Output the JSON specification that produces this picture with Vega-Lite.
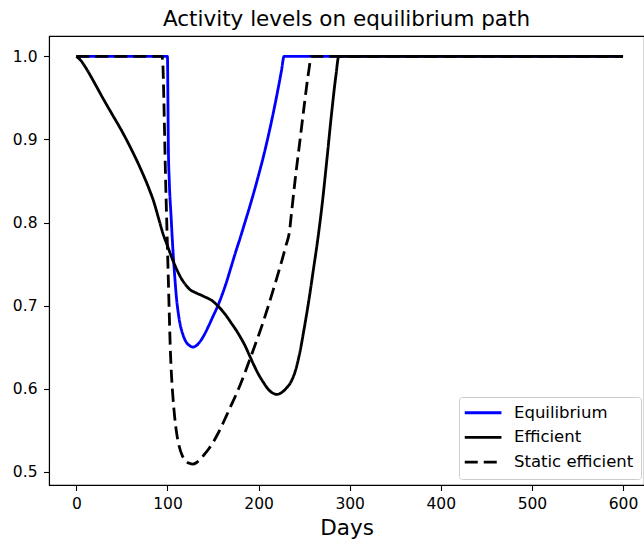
{
  "$schema": "https://vega.github.io/schema/vega-lite/v6.json",
  "width": 595,
  "height": 449,
  "autosize": {"type": "none"},
  "padding": {"left": 49, "top": 36, "right": 0, "bottom": 55},
  "background": "white",
  "title": {
    "text": "Activity levels on equilibrium path",
    "font": "DejaVu Sans",
    "fontSize": 21.5,
    "fontWeight": "normal",
    "color": "black",
    "baseline": "alphabetic",
    "offset": 10,
    "dy": 21
  },
  "datasets": {
    "paths": [
      {"series": "Equilibrium", "day": 0, "level": 1.0},
      {"series": "Equilibrium", "day": 100, "level": 1.0},
      {"series": "Equilibrium", "day": 100.5, "level": 0.95},
      {"series": "Equilibrium", "day": 101, "level": 0.89},
      {"series": "Equilibrium", "day": 102, "level": 0.85},
      {"series": "Equilibrium", "day": 104, "level": 0.807},
      {"series": "Equilibrium", "day": 106, "level": 0.767},
      {"series": "Equilibrium", "day": 108, "level": 0.735},
      {"series": "Equilibrium", "day": 110, "level": 0.708},
      {"series": "Equilibrium", "day": 112, "level": 0.69},
      {"series": "Equilibrium", "day": 114, "level": 0.677},
      {"series": "Equilibrium", "day": 117, "level": 0.665},
      {"series": "Equilibrium", "day": 120, "level": 0.657},
      {"series": "Equilibrium", "day": 124, "level": 0.652},
      {"series": "Equilibrium", "day": 128, "level": 0.65},
      {"series": "Equilibrium", "day": 132, "level": 0.652},
      {"series": "Equilibrium", "day": 136, "level": 0.657},
      {"series": "Equilibrium", "day": 140, "level": 0.664},
      {"series": "Equilibrium", "day": 145, "level": 0.675},
      {"series": "Equilibrium", "day": 150, "level": 0.687},
      {"series": "Equilibrium", "day": 155, "level": 0.699},
      {"series": "Equilibrium", "day": 160, "level": 0.713},
      {"series": "Equilibrium", "day": 165, "level": 0.729},
      {"series": "Equilibrium", "day": 170, "level": 0.747},
      {"series": "Equilibrium", "day": 175, "level": 0.765},
      {"series": "Equilibrium", "day": 180, "level": 0.782},
      {"series": "Equilibrium", "day": 185, "level": 0.8},
      {"series": "Equilibrium", "day": 190, "level": 0.818},
      {"series": "Equilibrium", "day": 195, "level": 0.837},
      {"series": "Equilibrium", "day": 200, "level": 0.857},
      {"series": "Equilibrium", "day": 205, "level": 0.878},
      {"series": "Equilibrium", "day": 210, "level": 0.901},
      {"series": "Equilibrium", "day": 215, "level": 0.926},
      {"series": "Equilibrium", "day": 220, "level": 0.953},
      {"series": "Equilibrium", "day": 225, "level": 0.982},
      {"series": "Equilibrium", "day": 228, "level": 1.0},
      {"series": "Equilibrium", "day": 600, "level": 1.0},

      {"series": "Efficient", "day": 0, "level": 1.0},
      {"series": "Efficient", "day": 5, "level": 0.995},
      {"series": "Efficient", "day": 10, "level": 0.987},
      {"series": "Efficient", "day": 20, "level": 0.968},
      {"series": "Efficient", "day": 30, "level": 0.948},
      {"series": "Efficient", "day": 40, "level": 0.929},
      {"series": "Efficient", "day": 50, "level": 0.91},
      {"series": "Efficient", "day": 60, "level": 0.889},
      {"series": "Efficient", "day": 70, "level": 0.866},
      {"series": "Efficient", "day": 80, "level": 0.84},
      {"series": "Efficient", "day": 85, "level": 0.825},
      {"series": "Efficient", "day": 90, "level": 0.806},
      {"series": "Efficient", "day": 95, "level": 0.787},
      {"series": "Efficient", "day": 100, "level": 0.772},
      {"series": "Efficient", "day": 105, "level": 0.757},
      {"series": "Efficient", "day": 110, "level": 0.744},
      {"series": "Efficient", "day": 115, "level": 0.733},
      {"series": "Efficient", "day": 120, "level": 0.725},
      {"series": "Efficient", "day": 125, "level": 0.719},
      {"series": "Efficient", "day": 130, "level": 0.716},
      {"series": "Efficient", "day": 140, "level": 0.711},
      {"series": "Efficient", "day": 150, "level": 0.705},
      {"series": "Efficient", "day": 155, "level": 0.7},
      {"series": "Efficient", "day": 160, "level": 0.694},
      {"series": "Efficient", "day": 165, "level": 0.687},
      {"series": "Efficient", "day": 170, "level": 0.679},
      {"series": "Efficient", "day": 175, "level": 0.671},
      {"series": "Efficient", "day": 180, "level": 0.662},
      {"series": "Efficient", "day": 185, "level": 0.652},
      {"series": "Efficient", "day": 190, "level": 0.64},
      {"series": "Efficient", "day": 195, "level": 0.628},
      {"series": "Efficient", "day": 200, "level": 0.617},
      {"series": "Efficient", "day": 205, "level": 0.608},
      {"series": "Efficient", "day": 210, "level": 0.6},
      {"series": "Efficient", "day": 215, "level": 0.595},
      {"series": "Efficient", "day": 220, "level": 0.593},
      {"series": "Efficient", "day": 225, "level": 0.595},
      {"series": "Efficient", "day": 230, "level": 0.6},
      {"series": "Efficient", "day": 235, "level": 0.607},
      {"series": "Efficient", "day": 240, "level": 0.62},
      {"series": "Efficient", "day": 245, "level": 0.642},
      {"series": "Efficient", "day": 250, "level": 0.672},
      {"series": "Efficient", "day": 255, "level": 0.705},
      {"series": "Efficient", "day": 260, "level": 0.742},
      {"series": "Efficient", "day": 265, "level": 0.78},
      {"series": "Efficient", "day": 270, "level": 0.824},
      {"series": "Efficient", "day": 275, "level": 0.876},
      {"series": "Efficient", "day": 280, "level": 0.93},
      {"series": "Efficient", "day": 285, "level": 0.978},
      {"series": "Efficient", "day": 288, "level": 1.0},
      {"series": "Efficient", "day": 600, "level": 1.0},

      {"series": "Static efficient", "day": 0, "level": 1.0},
      {"series": "Static efficient", "day": 94, "level": 1.0},
      {"series": "Static efficient", "day": 95, "level": 0.99},
      {"series": "Static efficient", "day": 96, "level": 0.95},
      {"series": "Static efficient", "day": 97, "level": 0.9},
      {"series": "Static efficient", "day": 98, "level": 0.85},
      {"series": "Static efficient", "day": 99, "level": 0.81},
      {"series": "Static efficient", "day": 100, "level": 0.77},
      {"series": "Static efficient", "day": 101, "level": 0.73},
      {"series": "Static efficient", "day": 102, "level": 0.69},
      {"series": "Static efficient", "day": 103, "level": 0.652},
      {"series": "Static efficient", "day": 104, "level": 0.625},
      {"series": "Static efficient", "day": 106, "level": 0.59},
      {"series": "Static efficient", "day": 108, "level": 0.565},
      {"series": "Static efficient", "day": 110, "level": 0.547},
      {"series": "Static efficient", "day": 113, "level": 0.53},
      {"series": "Static efficient", "day": 116, "level": 0.52},
      {"series": "Static efficient", "day": 120, "level": 0.513},
      {"series": "Static efficient", "day": 124, "level": 0.51},
      {"series": "Static efficient", "day": 128, "level": 0.509},
      {"series": "Static efficient", "day": 132, "level": 0.511},
      {"series": "Static efficient", "day": 136, "level": 0.515},
      {"series": "Static efficient", "day": 140, "level": 0.52},
      {"series": "Static efficient", "day": 145, "level": 0.527},
      {"series": "Static efficient", "day": 150, "level": 0.535},
      {"series": "Static efficient", "day": 155, "level": 0.545},
      {"series": "Static efficient", "day": 160, "level": 0.556},
      {"series": "Static efficient", "day": 165, "level": 0.568},
      {"series": "Static efficient", "day": 170, "level": 0.58},
      {"series": "Static efficient", "day": 175, "level": 0.592},
      {"series": "Static efficient", "day": 180, "level": 0.605},
      {"series": "Static efficient", "day": 185, "level": 0.619},
      {"series": "Static efficient", "day": 190, "level": 0.634},
      {"series": "Static efficient", "day": 195, "level": 0.649},
      {"series": "Static efficient", "day": 200, "level": 0.664},
      {"series": "Static efficient", "day": 205, "level": 0.68},
      {"series": "Static efficient", "day": 210, "level": 0.697},
      {"series": "Static efficient", "day": 215, "level": 0.715},
      {"series": "Static efficient", "day": 220, "level": 0.733},
      {"series": "Static efficient", "day": 225, "level": 0.752},
      {"series": "Static efficient", "day": 230, "level": 0.772},
      {"series": "Static efficient", "day": 234, "level": 0.79},
      {"series": "Static efficient", "day": 236, "level": 0.81},
      {"series": "Static efficient", "day": 240, "level": 0.85},
      {"series": "Static efficient", "day": 245, "level": 0.895},
      {"series": "Static efficient", "day": 250, "level": 0.94},
      {"series": "Static efficient", "day": 255, "level": 0.982},
      {"series": "Static efficient", "day": 258, "level": 1.0},
      {"series": "Static efficient", "day": 600, "level": 1.0}
    ]
  },
  "data": {"name": "paths"},
  "encoding": {
    "x": {
      "field": "day",
      "type": "quantitative",
      "scale": {"domain": [-30, 623], "nice": false, "zero": false},
      "axis": {"title": "Days", "values": [0, 100, 200, 300, 400, 500, 600], "format": "d"}
    },
    "y": {
      "field": "level",
      "type": "quantitative",
      "scale": {"domain": [0.4839, 1.0246], "nice": false, "zero": false},
      "axis": {"title": null, "values": [0.5, 0.6, 0.7, 0.8, 0.9, 1.0], "format": ".1f"}
    },
    "color": {
      "field": "series",
      "type": "nominal",
      "scale": {"domain": ["Equilibrium", "Efficient", "Static efficient"], "range": ["#0000ff", "#000000", "#000000"]},
      "legend": {"title": null}
    },
    "strokeDash": {
      "field": "series",
      "type": "nominal",
      "scale": {"domain": ["Equilibrium", "Efficient", "Static efficient"], "range": [[1, 0], [1, 0], [13, 6]]},
      "legend": {"title": null}
    }
  },
  "layer": [
    {
      "transform": [{"filter": "datum.series === 'Equilibrium'"}],
      "mark": {"type": "line", "strokeWidth": 2.8, "strokeCap": "butt", "strokeJoin": "round", "interpolate": "monotone"}
    },
    {
      "transform": [{"filter": "datum.series === 'Efficient'"}],
      "mark": {"type": "line", "strokeWidth": 2.8, "strokeCap": "butt", "strokeJoin": "round", "interpolate": "monotone"}
    },
    {
      "transform": [{"filter": "datum.series === 'Static efficient'"}],
      "mark": {"type": "line", "strokeWidth": 2.8, "strokeCap": "butt", "strokeJoin": "round", "interpolate": "monotone"}
    }
  ],
  "config": {
    "font": "DejaVu Sans",
    "view": {"stroke": "black", "strokeWidth": 1.1},
    "axis": {
      "grid": false,
      "domainColor": "black",
      "domainWidth": 1.1,
      "tickColor": "black",
      "tickWidth": 1.1,
      "tickSize": 5.5,
      "labelColor": "black",
      "labelFont": "DejaVu Sans",
      "labelFontSize": 15.5,
      "titleFont": "DejaVu Sans",
      "titleFontSize": 21.5,
      "titleFontWeight": "normal",
      "titleColor": "black"
    },
    "axisX": {"labelPadding": 6, "titlePadding": 5, "labelFlush": false},
    "axisY": {"labelPadding": 6.5, "labelFlush": false},
    "legend": {
      "orient": "none",
      "legendX": 410,
      "legendY": 361,
      "fillColor": "white",
      "strokeColor": "#cccccc",
      "cornerRadius": 3,
      "padding": 7.5,
      "labelFont": "DejaVu Sans",
      "labelFontSize": 16.5,
      "labelColor": "black",
      "labelOffset": 31,
      "symbolType": "M-2,0H5.34",
      "symbolSize": 100,
      "symbolStrokeWidth": 2.8,
      "rowPadding": 7.7
    }
  }
}
